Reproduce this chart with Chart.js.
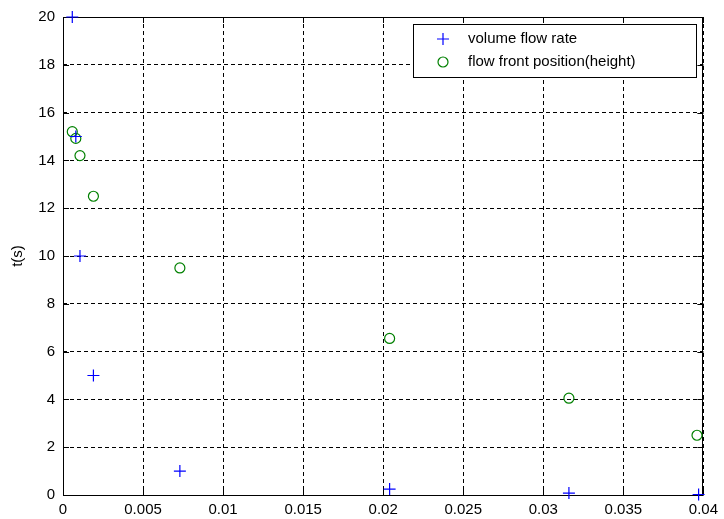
<!DOCTYPE html>
<html>
<head>
<meta charset="utf-8">
<script src="https://cdn.jsdelivr.net/npm/chart.js@4"></script>
<style>
html,body{margin:0;padding:0;background:#fff;}
#wrap{width:724px;height:519px;position:relative;}
</style>
</head>
<body>
<div id="wrap"><canvas id="c" width="724" height="519"></canvas></div>
<script>
// ---- data ----
const xValues = [0.00058, 0.0008, 0.00106, 0.0019, 0.0073, 0.0204, 0.0316, 0.0397];
const flowRate = [20, 15, 10, 5, 1.0, 0.25, 0.08, 0.02];
const xValuesFront = [0.00058, 0.0008, 0.00106, 0.0019, 0.0073, 0.0204, 0.0316, 0.0396];
const frontPosition = [15.2, 14.92, 14.2, 12.5, 9.5, 6.55, 4.05, 2.5];
const xTicks = [0, 0.005, 0.01, 0.015, 0.02, 0.025, 0.03, 0.035, 0.04];
const xTickLabels = ['0', '0.005', '0.01', '0.015', '0.02', '0.025', '0.03', '0.035', '0.04'];
const yTicks = [0, 2, 4, 6, 8, 10, 12, 14, 16, 18, 20];
const seriesNames = ['volume flow rate', 'flow front position(height)'];
const yTitle = 't(s)';

const FONT = "'Liberation Sans', Arial, sans-serif";

const framePlugin = {
  id: 'frame',
  beforeDatasetsDraw(chart) {
    const {ctx, chartArea: a} = chart;
    ctx.save();
    ctx.strokeStyle = '#000';
    ctx.lineWidth = 1;
    ctx.setLineDash([]);
    ctx.strokeRect(Math.round(a.left) + 0.5, Math.round(a.top) + 0.5,
                   Math.round(a.right - a.left) - 1, Math.round(a.bottom - a.top));
    const xs = chart.scales.x, ys = chart.scales.y;
    const tl = 6;
    ctx.beginPath();
    xTicks.forEach(v => {
      const px = Math.round(xs.getPixelForValue(v)) + 0.5;
      ctx.moveTo(px, a.bottom); ctx.lineTo(px, a.bottom - tl);
      ctx.moveTo(px, a.top); ctx.lineTo(px, a.top + tl);
    });
    yTicks.forEach(v => {
      const py = Math.round(ys.getPixelForValue(v)) + 0.5;
      ctx.moveTo(a.left, py); ctx.lineTo(a.left + tl, py);
      ctx.moveTo(a.right, py); ctx.lineTo(a.right - tl, py);
    });
    ctx.stroke();
    ctx.restore();
  },
  afterDraw(chart) {
    const {ctx} = chart;
    ctx.save();
    ctx.strokeStyle = '#000';
    ctx.lineWidth = 1;
    ctx.setLineDash([]);
    const bx = 413.5, by = 24.5, bw = 283, bh = 53;
    ctx.fillStyle = '#fff';
    ctx.fillRect(bx, by, bw, bh);
    ctx.strokeRect(bx, by, bw, bh);
    ctx.font = '15px ' + FONT;
    ctx.textBaseline = 'middle';
    ctx.textAlign = 'left';
    chart.data.datasets.forEach((ds, i) => {
      const cy = 39 + i * 23;
      const cx = 443;
      ctx.strokeStyle = ds.borderColor;
      ctx.lineWidth = 1.2;
      ctx.beginPath();
      if (ds.pointStyle === 'cross') {
        ctx.moveTo(cx - 6, cy); ctx.lineTo(cx + 6, cy);
        ctx.moveTo(cx, cy - 6); ctx.lineTo(cx, cy + 6);
      } else {
        ctx.arc(cx, cy, 5, 0, Math.PI * 2);
      }
      ctx.stroke();
      ctx.fillStyle = '#000';
      ctx.fillText(ds.label, 468, cy);
    });
    ctx.restore();
  }
};

new Chart(document.getElementById('c'), {
  type: 'scatter',
  data: {
    datasets: [
      {
        label: seriesNames[0],
        data: xValues.map((x, i) => ({x: x, y: flowRate[i]})),
        pointStyle: 'cross',
        pointRadius: 6,
        borderColor: '#0000ff',
        backgroundColor: '#0000ff',
        borderWidth: 1.2,
        clip: false
      },
      {
        label: seriesNames[1],
        data: xValuesFront.map((x, i) => ({x: x, y: frontPosition[i]})),
        pointStyle: 'circle',
        pointRadius: 5,
        borderColor: '#008000',
        backgroundColor: 'rgba(0,0,0,0)',
        borderWidth: 1.2,
        clip: false
      }
    ]
  },
  options: {
    responsive: false,
    animation: false,
    layout: {padding: {top: 16, right: 17, left: 0, bottom: 0}},
    plugins: {legend: {display: false}, tooltip: {enabled: false}},
    scales: {
      x: {
        type: 'linear',
        min: 0, max: 0.04,
        afterBuildTicks(s) { s.ticks = xTicks.map(v => ({value: v})); },
        afterFit(s) { s.height = 24; },
        ticks: {
          color: '#000',
          font: {family: FONT, size: 15},
          padding: 6,
          maxRotation: 0,
          autoSkip: false,
          callback(v) { const i = xTicks.indexOf(v); return i >= 0 ? xTickLabels[i] : ''; }
        },
        grid: {color: '#000', lineWidth: 1, drawTicks: false},
        border: {display: false, dash: [4, 3]}
      },
      y: {
        type: 'linear',
        min: 0, max: 20,
        afterBuildTicks(s) { s.ticks = yTicks.map(v => ({value: v})); },
        afterFit(s) { s.width = 63; },
        ticks: {
          color: '#000',
          font: {family: FONT, size: 15},
          padding: 8,
          autoSkip: false
        },
        title: {
          display: true,
          text: yTitle,
          color: '#000',
          font: {family: FONT, size: 15},
          padding: {top: 9, bottom: 0}
        },
        grid: {color: '#000', lineWidth: 1, drawTicks: false},
        border: {display: false, dash: [4, 3]}
      }
    }
  },
  plugins: [framePlugin]
});
</script>
</body>
</html>
